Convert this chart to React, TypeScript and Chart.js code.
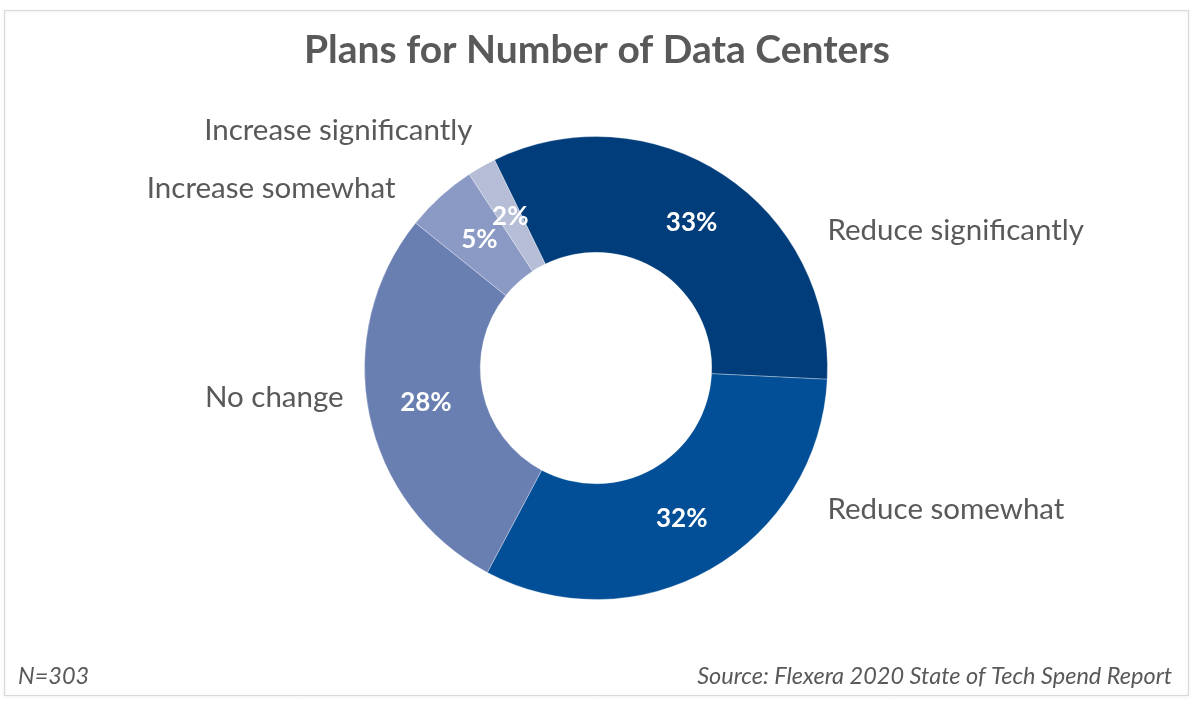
import React, { useEffect, useRef } from "react";
import { Chart, registerables } from "chart.js";

Chart.register(...registerables);

const title = "Plans for Number of Data Centers";
const categories = [
  "Reduce significantly",
  "Reduce somewhat",
  "No change",
  "Increase somewhat",
  "Increase significantly",
];
const values = [33, 32, 28, 5, 2];
const valueLabels = ["33%", "32%", "28%", "5%", "2%"];
const colors = ["#023d7b", "#034f97", "#6a7fb1", "#8b9ac4", "#b5bdd7"];
const footLeft = "N=303";
const footRight = "Source: Flexera 2020 State of Tech Spend Report";

// label anchors (baseline) relative to the doughnut centre, in units of outer radius
const labelLayout = [
  { dx: 1.0, dy: -0.552 },
  { dx: 1.0, dy: 0.651 },
  { dx: -1.09, dy: 0.168 },
  { dx: -0.866, dy: -0.733 },
  { dx: -0.534, dy: -0.983 },
];

const TEXT = "#595959";
const FONT = "Lato, 'Open Sans', sans-serif";

const decorPlugin = {
  id: "decor",
  beforeDraw(chart: any) {
    const ctx = chart.ctx;
    ctx.save();
    ctx.fillStyle = "#ffffff";
    ctx.fillRect(0, 0, chart.width, chart.height);
    ctx.shadowColor = "rgba(0,0,0,0.12)";
    ctx.shadowBlur = 3;
    ctx.shadowOffsetY = 1;
    ctx.strokeStyle = "#d9d9d9";
    ctx.lineWidth = 1;
    ctx.strokeRect(4.5, 10.5, 1184, 685);
    ctx.restore();
  },
  afterDraw(chart: any) {
    const ctx = chart.ctx;
    const meta = chart.getDatasetMeta(0);
    const arc0 = meta.data[0];
    const cx = arc0.x;
    const cy = arc0.y;
    const R = arc0.outerRadius;
    ctx.save();
    ctx.textBaseline = "alphabetic";
    // title
    ctx.fillStyle = TEXT;
    ctx.font = `bold 39px ${FONT}`;
    ctx.textAlign = "center";
    ctx.fillText(title, 597, 63);
    // outside labels
    ctx.font = `29.5px ${FONT}`;
    categories.forEach((c, i) => {
      const l = labelLayout[i];
      ctx.textAlign = l.dx > 0 ? "left" : "right";
      ctx.fillText(c, cx + l.dx * R, cy + l.dy * R);
    });
    // value labels
    ctx.fillStyle = "#ffffff";
    ctx.font = `bold 26px ${FONT}`;
    ctx.textAlign = "center";
    ctx.textBaseline = "middle";
    meta.data.forEach((arc: any, i: number) => {
      const p = arc.tooltipPosition();
      ctx.fillText(valueLabels[i], p.x, p.y);
    });
    // footers
    ctx.textBaseline = "alphabetic";
    ctx.fillStyle = TEXT;
    ctx.font = `italic 23.5px ${FONT}`;
    ctx.textAlign = "left";
    ctx.fillText(footLeft, 18, 684);
    ctx.textAlign = "right";
    ctx.fillText(footRight, 1172, 684);
    ctx.restore();
  },
};

export default function App() {
  const ref = useRef<HTMLCanvasElement>(null);
  useEffect(() => {
    const chart = new Chart(ref.current as HTMLCanvasElement, {
      type: "doughnut",
      data: {
        labels: categories,
        datasets: [
          {
            data: values,
            backgroundColor: colors,
            borderColor: "rgba(255,255,255,0.3)",
            borderWidth: 1,
          },
        ],
      },
      options: {
        animation: false,
        responsive: false,
        rotation: -26,
        cutout: "50%",
        layout: { padding: { top: 136, bottom: 110, left: 0, right: 8 } },
        plugins: {
          legend: { display: false },
          tooltip: { enabled: false },
          title: { display: false },
        },
      },
      plugins: [decorPlugin],
    });
    return () => chart.destroy();
  }, []);
  return (
    <div style={{ position: "absolute", left: 0, top: 0, width: 1200, height: 710 }}>
      <canvas ref={ref} width={1200} height={710} style={{ width: 1200, height: 710 }} />
    </div>
  );
}
